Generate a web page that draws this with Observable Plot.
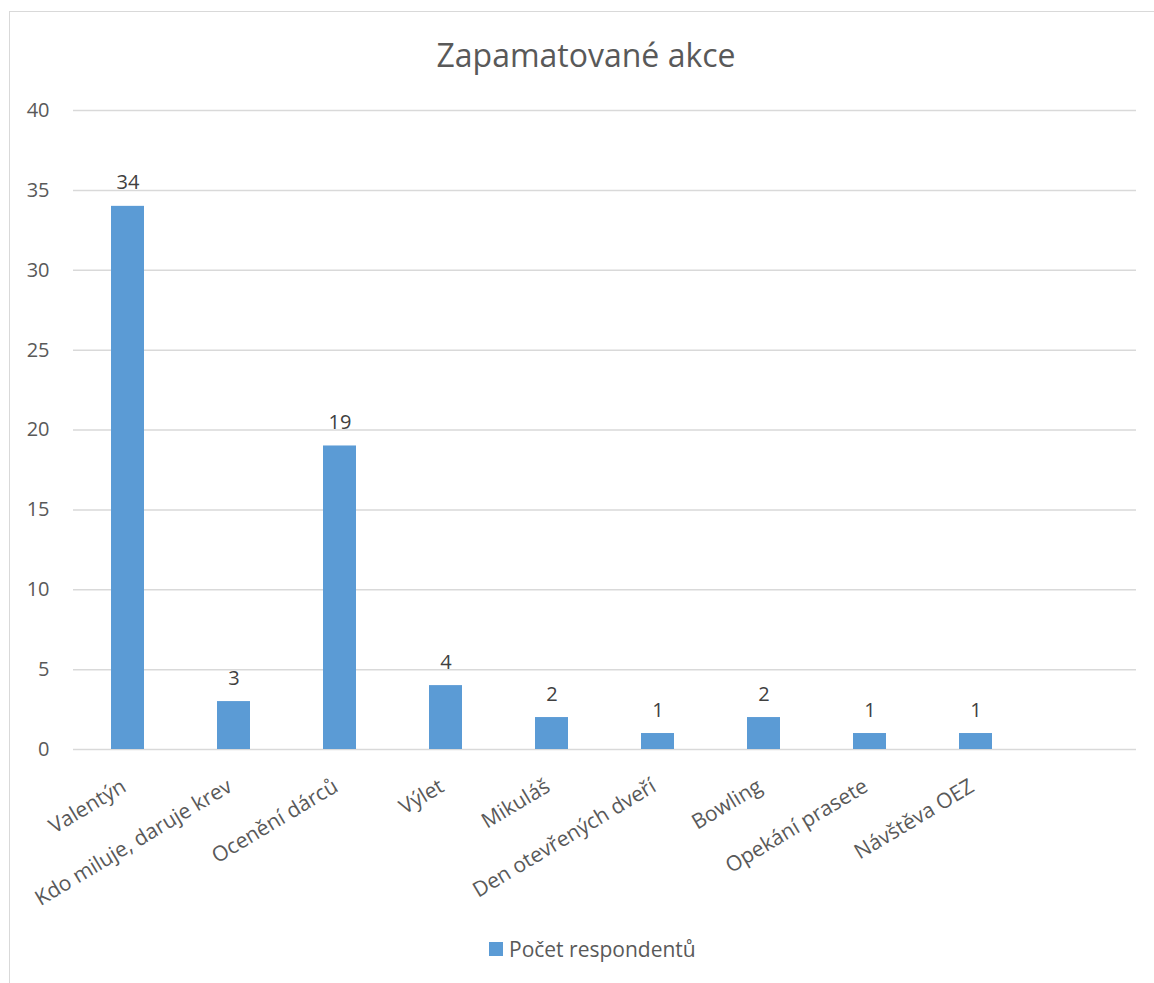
<!DOCTYPE html>
<html>
<head>
<meta charset="utf-8">
<script src="https://cdn.jsdelivr.net/npm/d3@7"></script>
<script src="https://cdn.jsdelivr.net/npm/@observablehq/plot@0.6"></script>
<style>
  html, body { margin: 0; padding: 0; background: #fff; }
  #wrap { position: relative; width: 1154px; height: 983px; overflow: hidden; font-family: "Open Sans", sans-serif; color: #595959; }
  #frame { position: absolute; left: 9px; top: 11px; width: 1200px; height: 1000px; border-left: 1.5px solid #d9d9d9; border-top: 1.5px solid #d9d9d9; }
  #title { position: absolute; left: 0; width: 1172px; top: 33px; text-align: center; font-size: 32px; color: #595959; }
  #chart { position: absolute; left: 0; top: 90px; }
  #chart svg { overflow: visible; }
  #legend { position: absolute; left: 489px; top: 935px; font-size: 21px; display: flex; align-items: center; color: #595959; }
  #legend .sw { width: 14px; height: 14px; background: #5b9bd5; margin-right: 6px; }
</style>
</head>
<body>
<div id="wrap">
  <div id="frame"></div>
  <div id="title">Zapamatované akce</div>
  <div id="chart"></div>
  <div id="legend"><span class="sw"></span><span>Počet respondentů</span></div>
</div>
<script>
const categories = ["Valentýn", "Kdo miluje, daruje krev", "Ocenění dárců", "Výlet", "Mikuláš", "Den otevřených dveří", "Bowling", "Opekání prasete", "Návštěva OEZ"];
const values = [34, 3, 19, 4, 2, 1, 2, 1, 1];
const emptySlot = [" "];
const yTicks = [0, 5, 10, 15, 20, 25, 30, 35, 40];
const seriesName = "Počet respondentů";

const data = categories.map((c, i) => ({category: c, value: values[i]}));
const gap = 1 - 1 / 3.19;

const chart = Plot.plot({
  width: 1154,
  height: 893,
  marginTop: 20,
  marginBottom: 234,
  marginLeft: 73,
  marginRight: 18,
  style: {fontFamily: "'Open Sans', sans-serif", fontSize: "20px", color: "#595959", background: "transparent", overflow: "visible"},
  x: {domain: [...categories, ...emptySlot], paddingInner: gap, paddingOuter: gap / 2, label: null},
  y: {domain: [0, 40], ticks: yTicks, label: null},
  marks: [
    Plot.gridY(yTicks, {stroke: "#d9d9d9", strokeOpacity: 1, strokeWidth: 1.5}),
    Plot.axisY({ticks: yTicks, tickSize: 0, tickPadding: 24, fontSize: 20, fill: "#595959", label: null}),
    Plot.axisX({tickSize: 0, tickRotate: -31, tickPadding: 35, dx: -4, fontSize: 21, fill: "#595959", label: null}),
    Plot.barY(data, {x: "category", y: "value", fill: "#5b9bd5"}),
    Plot.text(data, {x: "category", y: "value", text: d => String(d.value), dy: -17, lineAnchor: "bottom", fontSize: 20, fill: "#404040"})
  ]
});
document.getElementById("chart").appendChild(chart);
</script>
</body>
</html>
